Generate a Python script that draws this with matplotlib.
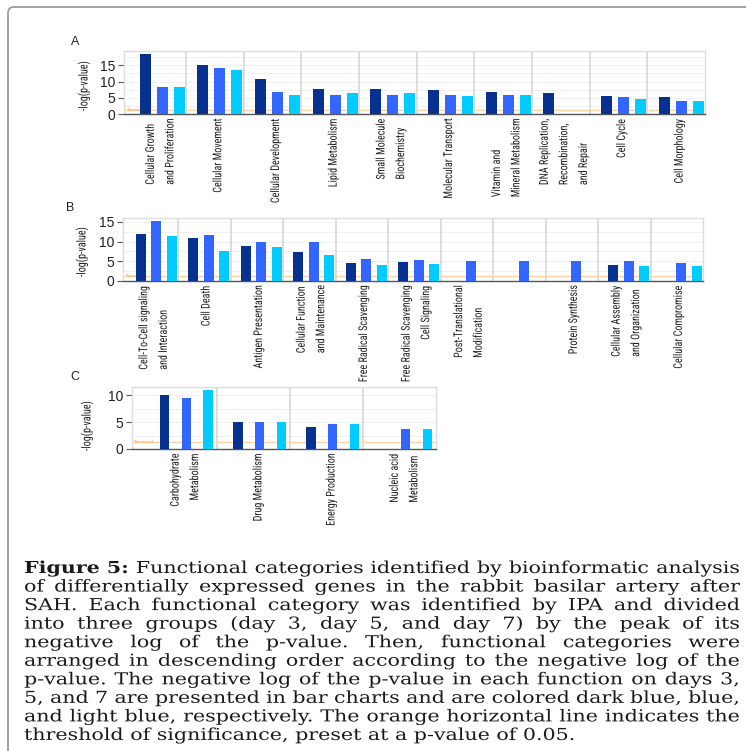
import numpy as np
import matplotlib
matplotlib.use("Agg")
import matplotlib.pyplot as plt
from matplotlib.patches import FancyBboxPatch
from matplotlib import font_manager as fm
from matplotlib import patheffects as pe
from matplotlib.transforms import Affine2D

nan = np.nan

# ---------------- data ----------------
A_cats = ["Cellular Growth\nand Proliferation", "Cellular Movement", "Cellular Development",
          "Lipid Metabolism", "Small Molecule\nBiochemistry", "Molecular Transport",
          "Vitamin and\nMineral Metabolism", "DNA Replication,\nRecombination,\nand Repair",
          "Cell Cycle", "Cell Morphology"]
A_day3 = [18.6, 15.0, 10.9, 7.6, 7.6, 7.4, 6.7, 6.5, 5.6, 5.2]
A_day5 = [8.2, 14.3, 6.8, 6.0, 6.0, 5.9, 6.0, nan, 5.3, 4.0]
A_day7 = [8.4, 13.5, 5.9, 6.5, 6.5, 5.5, 6.0, nan, 4.6, 4.0]

B_cats = ["Cell-To-Cell signaling\nand Interaction", "Cell Death", "Antigen Presentation",
          "Cellular Function\nand Maintenance", "Free Radical Scavenging",
          "Free Radical Scavenging\nCell Signaling", "Post-Translational\nModification", "",
          "Protein Synthesis", "Cellular Assembly\nand Organization", "Cellular Compromise"]
B_day3 = [11.9, 11.0, 9.0, 7.4, 4.5, 4.7, nan, nan, nan, 4.1, nan]
B_day5 = [15.3, 11.7, 10.0, 10.0, 5.6, 5.3, 5.1, 5.1, 5.1, 5.1, 4.5]
B_day7 = [11.5, 7.7, 8.7, 6.6, 4.1, 4.3, nan, nan, nan, 3.9, 3.7]

C_cats = ["Carbohydrate\nMetabolism", "Drug Metabolism", "Energy Production",
          "Nucleic acid\nMetabolism"]
C_day3 = [10.1, 5.0, 4.1, nan]
C_day5 = [9.4, 5.0, 4.7, 3.7]
C_day7 = [10.9, 5.0, 4.7, 3.7]

yticks_A = [0, 5, 10, 15]
yticks_B = [0, 5, 10, 15]
yticks_C = [0, 5, 10]
threshold = -np.log10(0.05)

caption_lines = [
    "Figure 5: Functional categories identified by bioinformatic analysis",
    "of differentially expressed genes in the rabbit basilar artery after",
    "SAH. Each functional category was identified by IPA and divided",
    "into three groups (day 3, day 5, and day 7) by the peak of its",
    "negative log of the p-value. Then, functional categories were",
    "arranged in descending order according to the negative log of the",
    "p-value. The negative log of the p-value in each function on days 3,",
    "5, and 7 are presented in bar charts and are colored dark blue, blue,",
    "and light blue, respectively. The orange horizontal line indicates the",
    "threshold of significance, preset at a p-value of 0.05.",
]

# ---------------- style ----------------
COLORS = ['#06318f', '#3366ff', '#00ccff']
SANS = ['Liberation Sans', 'DejaVu Sans']
SERIF = ['DejaVu Serif']


class GlyphScale(pe.AbstractPathEffect):
    """Scale glyph outlines perpendicular to the baseline (keeps real text)."""

    def __init__(self, sy):
        super().__init__(offset=(0, 0))
        self.sy = sy

    def draw_path(self, renderer, gc, tpath, affine, rgbFace=None):
        renderer.draw_path(gc, tpath, Affine2D().scale(1.0, self.sy) + affine, rgbFace)


W, H = 746, 751
fig = plt.figure(figsize=(W / 100, H / 100), dpi=100)
fig.patch.set_facecolor('white')
renderer = fig.canvas.get_renderer()

# pick a condensed sans font if one is installed
names = {f.name for f in fm.fontManager.ttflist}
NARROW = None
for cand in ['Liberation Sans Narrow', 'Arial Narrow', 'Roboto Condensed',
             'Open Sans Condensed', 'Noto Sans Condensed', 'DejaVu Sans Condensed']:
    if cand in names:
        NARROW = cand
        break
if NARROW is None:
    NARROW = 'Liberation Sans'


def measure(text, size, family, weight='normal'):
    t = fig.text(0, 0, text, fontsize=size, fontfamily=family, fontweight=weight)
    bb = t.get_window_extent(renderer)
    t.remove()
    return bb.width


XL_SIZE = 10 * 74 / measure("Cellular Movement", 10, NARROW)
YL_SIZE = 10 * 50 / measure("-log(p-value)", 10, NARROW)
# glyph height boost so that the condensed look of the reference is reproduced
XL_SY = min(1.6, max(1.0, 8.6 / XL_SIZE))
YL_SY = min(1.6, max(1.0, 9.0 / YL_SIZE))
XL_LS = 21.0 / (XL_SIZE * 100 / 72 * 0.95)


def px_axes(l, t, r, b):
    return fig.add_axes([l / W, 1 - b / H, (r - l) / W, (b - t) / H])


def panel(ax, cats, d3, d5, d7, yticks, ymax, xmin, width, lab_off, ylab_px,
          box, special_align=()):
    n = len(cats)
    x = np.arange(n)
    offs = [0.29, 0.585, 0.88]
    for vals, off, col in zip([d3, d5, d7], offs, COLORS):
        v = np.asarray(vals, float)
        m = ~np.isnan(v)
        ax.bar(x[m] + off, v[m], width=width, color=col, edgecolor='none', zorder=3)
    ax.set_xlim(xmin, n)
    ax.set_ylim(0, ymax)
    for k in range(1, n):
        ax.axvline(k, color='#dadada', lw=1.3, zorder=1)
    ax.axhline(threshold, color='#fdd3a6', lw=1.0, zorder=2)
    ax.text(xmin + 0.03 * (n / 10), threshold, 'Threshold', fontsize=3,
            color='#f2a14a', va='center', ha='left', zorder=2)
    ax.set_yticks(yticks)
    ax.set_yticks(np.arange(0, ymax, 2.5), minor=True)
    ax.grid(axis='y', which='both', color='#eeeeee', lw=0.6, zorder=0)
    ax.set_axisbelow(True)
    ax.tick_params(axis='y', which='minor', length=0)
    ax.tick_params(axis='y', which='major', length=4, width=0.8, color='#555555',
                   pad=2, labelsize=10, labelcolor='#222222')
    for t in ax.get_yticklabels():
        t.set_fontfamily(SANS)
    ax.set_xticks(x + lab_off)
    ax.set_xticklabels(cats, rotation=90, fontsize=XL_SIZE, linespacing=XL_LS,
                       va='top', ha='center', fontfamily=NARROW, color='#222222')
    for i, t in enumerate(ax.get_xticklabels()):
        t.set_multialignment('right' if i in special_align else 'left')
        t.set_path_effects([GlyphScale(XL_SY)])
    ax.tick_params(axis='x', length=0, pad=3.5)
    for s in ['left', 'top', 'right']:
        ax.spines[s].set_color('#dddddd')
        ax.spines[s].set_linewidth(1.0)
    ax.spines['bottom'].set_color('#555555')
    ax.spines['bottom'].set_linewidth(1.0)
    l, t, r, b = box
    yl = ax.set_ylabel('-log(p-value)', fontsize=YL_SIZE, fontfamily=NARROW,
                       color='#222222')
    yl.set_path_effects([GlyphScale(YL_SY)])
    ax.yaxis.set_label_coords((ylab_px[0] - l) / (r - l), (b - ylab_px[1]) / (b - t))


boxA = (124, 51, 705, 114)
boxB = (123, 218, 703, 281)
boxC = (132, 387, 436, 449)
axA = px_axes(*boxA)
axB = px_axes(*boxB)
axC = px_axes(*boxC)

panel(axA, A_cats, A_day3, A_day5, A_day7, yticks_A, 19.4, -0.075, 0.19, 0.56,
      (90, 86), boxA)
panel(axB, B_cats, B_day3, B_day5, B_day7, yticks_B, 16.0, -0.05, 0.19, 0.54,
      (88, 252), boxB, special_align=(5,))
panel(axC, C_cats, C_day3, C_day5, C_day7, yticks_C, 11.5, -0.16, 0.125, 0.57,
      (93, 426), boxC, special_align=(0,))

for lab, (px, py) in zip(['A', 'B', 'C'], [(75, 42), (70, 208), (75, 377)]):
    fig.text(px / W, 1 - py / H, lab, fontsize=9, fontfamily=SANS, ha='center',
             va='center', color='#222222')

# border (rounded top-left corner)
border = FancyBboxPatch((8 / W, -0.1), 1.2, 1.1 - 7 / H,
                        boxstyle='round,pad=0,rounding_size=0.008',
                        transform=fig.transFigure, fill=False,
                        edgecolor='#9b9b9b', lw=1.3, clip_on=False)
fig.add_artist(border)

# caption, justified; glyphs flattened a little like the reference
x_left, x_right = 24, 740
base0, dy = 573, 18.55
fs = 12 * 549 / measure(caption_lines[-1], 12, SERIF)
CAP_SY = 0.8
space = measure('a b', fs, SERIF) - measure('ab', fs, SERIF)
for i, line in enumerate(caption_lines):
    words = line.split(' ')
    y = 1 - (base0 + i * dy) / H
    texts = []
    for j, wd in enumerate(words):
        bold = (i == 0 and j < 2)
        t = fig.text(0, y, wd, fontsize=fs, fontfamily=SERIF, va='baseline',
                     ha='left', color='#1a1a1a', fontweight='bold' if bold else 'normal')
        t.set_path_effects([GlyphScale(CAP_SY)])
        texts.append(t)
    widths = [t.get_window_extent(renderer).width for t in texts]
    if i < len(caption_lines) - 1:
        gap = (x_right - x_left - sum(widths)) / (len(words) - 1)
    else:
        gap = space
    xp = x_left
    for t, w in zip(texts, widths):
        t.set_x(xp / W)
        xp += w + gap

fig.savefig('out.png', dpi=100, facecolor='white')
